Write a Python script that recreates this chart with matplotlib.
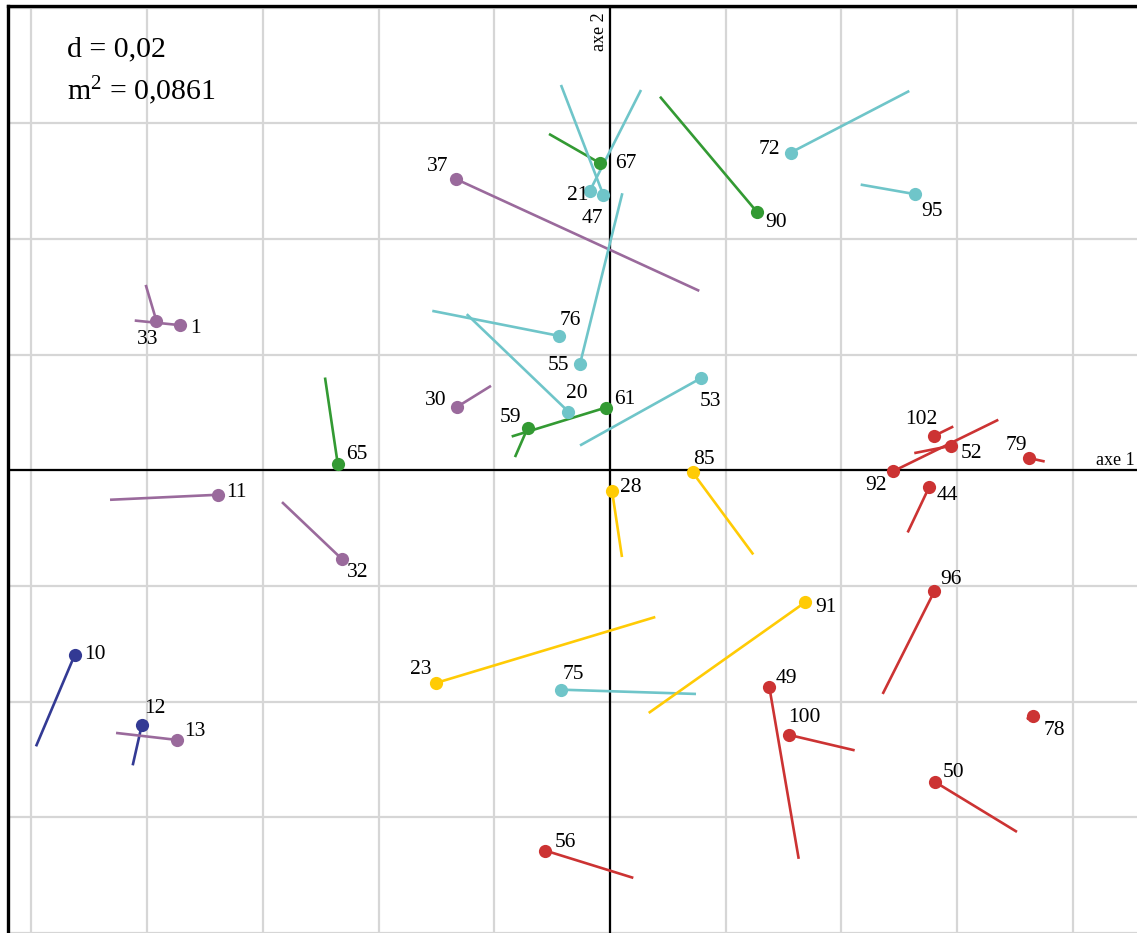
import matplotlib
matplotlib.use("Agg")
import matplotlib.pyplot as plt
import numpy as np

# Factorial plane (axes 1 and 2): each individual is drawn as a dot,
# with a segment towards its position in the second configuration.

labels = ["67", "21", "47", "37", "90", "55", "72", "95", "33", "1",
          "65", "11", "32", "76", "20", "30", "59", "61", "53", "85",
          "28", "102", "52", "92", "79", "44", "10", "12", "13", "23",
          "75", "56", "91", "96", "49", "100", "50", "78"]

pt_x = [-0.00173, -0.00346, -0.00116, -0.02666, 0.02535, -0.00518, 0.03122, 0.05276, -0.07840, -0.07430,
        -0.04705, -0.06769, -0.04626, -0.00881, -0.00721, -0.02649, -0.01422, -0.00069, 0.01572, 0.01429,
        0.00035, 0.05604, 0.05893, 0.04885, 0.07240, 0.05512, -0.09250, -0.08092, -0.07482, -0.03007,
        -0.00847, -0.01118, 0.03370, 0.05604, 0.02753, 0.03098, 0.05616, 0.07310]
pt_y = [0.05310, 0.04835, 0.04761, 0.05037, 0.04472, 0.01840, 0.05492, 0.04773, 0.02589, 0.02509,
        0.00112, -0.00423, -0.01541, 0.02324, 0.01016, 0.01092, 0.00734, 0.01085, 0.01593, -0.00038,
        -0.00354, 0.00596, 0.00423, -0.00021, 0.00211, -0.00297, -0.03193, -0.04410, -0.04662, -0.03677,
        -0.03793, -0.06575, -0.02284, -0.02094, -0.03746, -0.04576, -0.05388, -0.04254]

end_x = [-0.01054, 0.00536, -0.00847, 0.01543, 0.00864, 0.00213, 0.05172, 0.04332, -0.08023, -0.08213,
         -0.04925, -0.08640, -0.05668, -0.03071, -0.02476, -0.02056, -0.01642, -0.01699, -0.00518, 0.02476,
         0.00207, 0.05932, 0.05258, 0.06710, 0.07512, 0.05144, -0.09919, -0.08248, -0.08536, 0.00783,
         0.01486, 0.00403, 0.00669, 0.04712, 0.03261, 0.04228, 0.07033, 0.07200]
end_y = [0.05815, 0.06575, 0.06662, 0.03102, 0.06459, 0.04790, 0.06558, 0.04939, 0.03205, 0.02589,
         0.01604, -0.00510, -0.00550, 0.02756, 0.02699, 0.01460, 0.00228, 0.00584, 0.00429, -0.01455,
         -0.01500, 0.00757, 0.00297, 0.00873, 0.00152, -0.01075, -0.04773, -0.05101, -0.04541, -0.02537,
         -0.03867, -0.07047, -0.04196, -0.03867, -0.06718, -0.04842, -0.06252, -0.04300]

group = ["green", "cyan", "cyan", "purple", "green", "cyan", "cyan", "cyan", "purple", "purple",
         "green", "purple", "purple", "cyan", "cyan", "purple", "green", "green", "cyan", "yellow",
         "yellow", "red", "red", "red", "red", "red", "navy", "navy", "purple", "yellow",
         "cyan", "red", "yellow", "red", "red", "red", "red", "red"]

# styling
colors = {"purple": "#9a6a9c", "cyan": "#6fc5c9", "green": "#339a33",
          "yellow": "#ffcb05", "red": "#cc3333", "navy": "#333a94"}

# label offsets from the dot, in pixels (right, down)
label_dx = [26, -12, -11, -18, 19, -22, -21, 17, -9, 15,
            19, 18, 15, 11, 9, -21, -17, 19, 9, 11,
            19, -13, 20, -17, -13, 18, 20, 13, 18, -15,
            12, 20, 21, 17, 17, 15, 19, 21]
label_dy = [0, 5, 24, -12, 11, 2, -3, 17, 19, 3,
            -9, -2, 13, -15, -18, -7, -10, -8, 23, -13,
            -3, -16, 8, 14, -13, 8, 0, -17, -8, -13,
            -15, -8, 5, -12, -8, -17, -9, 14]

plt.rcParams["font.family"] = ["Liberation Serif", "DejaVu Serif"]
plt.rcParams["mathtext.fontset"] = "custom"
plt.rcParams["mathtext.rm"] = "Liberation Serif"
plt.rcParams["mathtext.it"] = "Liberation Serif:italic"

fig = plt.figure(figsize=(11.37, 9.33), dpi=100)
ax = fig.add_axes([8 / 1137, 0, 1129 / 1137, 927 / 933])

ax.set_xlim(-0.10403, 0.09107)
ax.set_ylim(-0.07992, 0.08027)

ax.set_xticks(np.arange(-0.10, 0.0901, 0.02))
ax.set_yticks(np.arange(-0.08, 0.0801, 0.02))
ax.grid(True, color="#d6d6d6", linewidth=1.6)
ax.set_axisbelow(True)
ax.tick_params(length=0, labelbottom=False, labelleft=False)

for side in ["right", "bottom"]:
    ax.spines[side].set_visible(False)
for side in ["left", "top"]:
    ax.spines[side].set_linewidth(2.4)

ax.axhline(0, color="black", linewidth=1.6, zorder=2)
ax.axvline(0, color="black", linewidth=1.6, zorder=2)

for i in range(len(labels)):
    c = colors[group[i]]
    ax.plot([pt_x[i], end_x[i]], [pt_y[i], end_y[i]], color=c, linewidth=1.9,
            solid_capstyle="butt", zorder=3)
for i in range(len(labels)):
    c = colors[group[i]]
    ax.plot(pt_x[i], pt_y[i], "o", color=c, markersize=9.5, markeredgewidth=0, zorder=4)
    ax.annotate(labels[i], (pt_x[i], pt_y[i]),
                xytext=(label_dx[i] * 0.72, -label_dy[i] * 0.72), textcoords="offset points",
                ha="center", va="center", fontsize=15.5, color="black", zorder=5)

fig.text(67 / 1137, 1 - 56 / 933, "d = 0,02", fontsize=21.5, va="baseline", ha="left")
fig.text(67 / 1137, 1 - 100 / 933, r"m$^{2}$ = 0,0861", fontsize=21.5, va="baseline", ha="left")

fig.text(599 / 1137, 1 - 12 / 933, "axe 2", rotation=90, fontsize=13, ha="center", va="top")
fig.text(1135 / 1137, 1 - 465 / 933, "axe 1", fontsize=13, ha="right", va="baseline")

fig.savefig("out.png", dpi=100)
